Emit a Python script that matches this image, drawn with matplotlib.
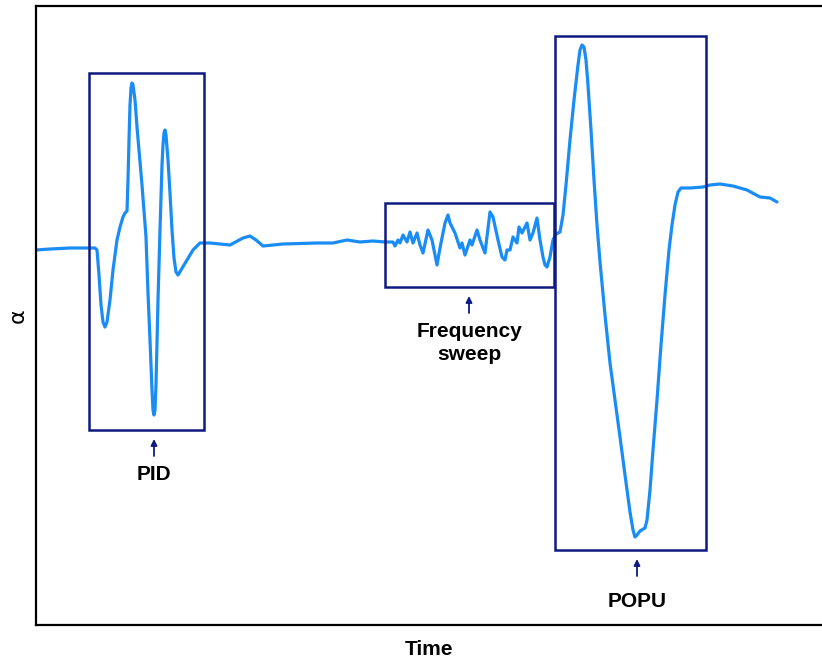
import matplotlib.pyplot as plt
from matplotlib.patches import Rectangle

# Time / alpha trace (arbitrary units)
time = [0, 14, 34, 59, 61, 63, 65, 67, 69, 71, 74, 77, 81, 84, 87, 89, 91, 92,
        93, 94, 95, 96, 97, 99, 101, 106, 110, 112, 114, 116, 117, 118, 119,
        120, 122, 124, 126, 127, 128, 129, 130, 132, 134, 136, 138, 140, 142,
        145, 151, 157, 164, 174, 194, 207, 214, 220, 227, 247, 281, 297, 311,
        324, 337, 349, 357, 359, 362, 364, 367, 371, 374, 377, 381, 384, 387,
        392, 396, 401, 404, 409, 412, 414, 419, 424, 426, 429, 434, 436, 441,
        444, 449, 454, 457, 462, 466, 469, 471, 474, 477, 481, 483, 486, 491,
        494, 497, 501, 504, 507, 509, 511, 514, 517, 520, 524, 527, 530, 534,
        538, 542, 544, 546, 548, 550, 552, 555, 558, 561, 564, 569, 574, 579,
        584, 589, 594, 597, 599, 601, 604, 609, 611, 614, 617, 621, 625, 629,
        633, 636, 639, 642, 645, 654, 667, 674, 684, 697, 711, 724, 734, 741]
alpha = [0, 1, 2, 2, 0, -25, -55, -72, -77, -72, -50, -20, 10, 23, 33, 37, 39,
         70, 110, 145, 162, 167, 165, 150, 123, 65, 13, -43, -90, -140, -160,
         -165, -160, -135, -50, 20, 85, 105, 117, 120, 115, 90, 57, 20, -8,
         -22, -25, -20, -10, 0, 7, 7, 5, 12, 14, 10, 4, 6, 7, 7, 10, 8, 9, 8,
         8, 4, 10, 7, 15, 8, 18, 7, 17, 5, -3, 20, 10, -15, 2, 27, 35, 27, 17,
         2, 7, -5, 10, 5, 20, 10, -3, 38, 33, 10, -7, -10, 0, 0, 13, 7, 23, 17,
         27, 10, 17, 32, 10, -7, -15, -17, -7, 10, 16, 18, 35, 65, 110, 150,
         185, 200, 205, 203, 190, 165, 120, 70, 25, -12, -65, -113, -150, -187,
         -225, -262, -280, -287, -285, -281, -278, -270, -240, -200, -150, -95,
         -45, 0, 25, 45, 58, 62, 62, 63, 65, 66, 64, 60, 53, 52, 48]

# annotation boxes: (t0, t1, alpha_low, alpha_high)
box_names = ["PID", "Frequency\nsweep", "POPU"]
box_t0 = [53, 349, 519]
box_t1 = [168, 518, 670]
box_lo = [-180, -37, -300]
box_hi = [177, 47, 214]
arrow_t = [118, 433, 601]
label_top = [-215, -72, -342]

line_color = "#1a8cf5"
box_color = "#0d1a80"

fig = plt.figure(figsize=(8.22, 6.58), dpi=100)
ax = fig.add_axes([36 / 822, 1 - 625 / 658, 786 / 822, 619 / 658])

ax.plot(time, alpha, color=line_color, linewidth=2.3, solid_joinstyle="round",
        solid_capstyle="round")

for i, name in enumerate(box_names):
    t0, t1, lo, hi = box_t0[i], box_t1[i], box_lo[i], box_hi[i]
    ax.add_patch(Rectangle((t0, lo), t1 - t0, hi - lo, fill=False,
                           edgecolor=box_color, linewidth=1.8, zorder=3))
    tc = arrow_t[i]
    ax.annotate("", xy=(tc, lo - 9), xytext=(tc, lo - 26),
                arrowprops=dict(arrowstyle="-|>", color=box_color, lw=1.3,
                                mutation_scale=9, shrinkA=0, shrinkB=0))
    ax.text(tc, label_top[i], name, ha="center", va="top",
            fontsize=15, fontweight="bold", family="Liberation Sans",
            linespacing=1.25)

ax.set_xlim(0, 786)
ax.set_ylim(-375, 244)
ax.set_xticks([])
ax.set_yticks([])
ax.spines["right"].set_visible(False)
for s in ["left", "top", "bottom"]:
    ax.spines[s].set_linewidth(1.6)

ax.set_xlabel("Time", fontsize=15, fontweight="bold", family="Liberation Sans",
              labelpad=11)
ax.set_ylabel("α", fontsize=16, labelpad=6)

fig.savefig("out.png", dpi=100)
